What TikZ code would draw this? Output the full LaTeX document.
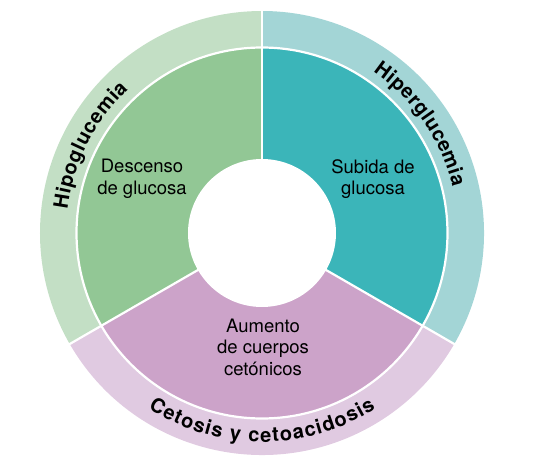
\documentclass[tikz,border=0pt]{standalone}
\usepackage{fontspec}
\setmainfont{TeX Gyre Heros}
\usetikzlibrary{decorations.text}

\definecolor{hiporing}{HTML}{C3DFC5}
\definecolor{hiposector}{HTML}{92C795}
\definecolor{hiperring}{HTML}{A3D5D6}
\definecolor{hipersector}{HTML}{3BB5B9}
\definecolor{cetoring}{HTML}{E0CAE1}
\definecolor{cetosector}{HTML}{CCA3C9}

\begin{document}
\begin{tikzpicture}[x=1pt,y=1pt,
    txt/.style={align=center,font=\fontsize{18.5}{21.6}\selectfont},
    ringtxt/.style={decorate,decoration={text along path,
        text align={fit to path},
        text={|\fontsize{20}{24}\selectfont\bfseries|#1}}},
    gap/.style={white,line width=2.2pt}]

    \useasboundingbox (-262,-238) rectangle (271,233);

    % the rings
    \fill[hiporing] (0,0) -- (90:222) arc[start angle=90,end angle=210,radius=222] -- cycle;
    \fill[cetoring] (0,0) -- (210:222) arc[start angle=210,end angle=330,radius=222] -- cycle;
    \fill[hiperring] (0,0) -- (330:222) arc[start angle=-30,end angle=90,radius=222] -- cycle;

    % the sectors
    \fill[hiposector] (0,0) -- (90:185) arc[start angle=90,end angle=210,radius=185] -- cycle;
    \fill[cetosector] (0,0) -- (210:185) arc[start angle=210,end angle=330,radius=185] -- cycle;
    \fill[hipersector] (0,0) -- (330:185) arc[start angle=-30,end angle=90,radius=185] -- cycle;

    \draw[gap] (0,0) circle[radius=185.5];
    \foreach \a in {90,210,330}
      \draw[gap] (\a:70) -- (\a:224);
    \fill[white] (0,0) circle[radius=74];

    % the texts
    \node[txt] (descenso) at (-120,54) {Descenso\\de glucosa};
    \node[txt] (subida) at (111,54) {Subida de\\glucosa};
    \node[txt] (aumento) at (1,-114) {Aumento\\de cuerpos\\cetónicos};

    \path[ringtxt=Hipoglucemia] (173:196) arc[start angle=173,end angle=133,radius=196];
    \path[ringtxt=Hiperglucemia] (55.5:196) arc[start angle=55.5,end angle=13.5,radius=196];
    \path[ringtxt=Cetosis y cetoacidosis] (237:209) arc[start angle=237,end angle=303,radius=209];
\end{tikzpicture}
\end{document}
